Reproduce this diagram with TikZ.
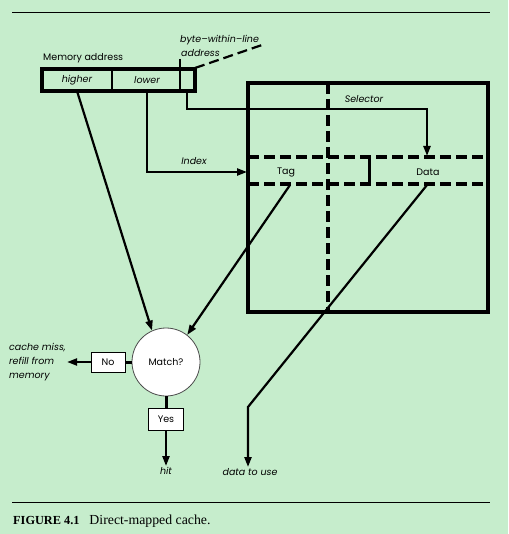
\documentclass[tikz,border=0pt]{standalone}
\usepackage{fontspec}
\setmainfont{Liberation Serif}
\newfontfamily\figfont{Poppins}
\usetikzlibrary{positioning,arrows.meta}
\definecolor{bggreen}{RGB}{198,237,204}
\begin{document}
\begin{tikzpicture}[x=1pt,y=-1pt,
  >={Triangle[length=10pt,width=7pt]},
  txt/.style={font=\figfont\fontsize{9.5}{14}\selectfont, inner sep=1pt},
  lbl/.style={txt, font=\figfont\itshape\fontsize{9.5}{14}\selectfont, align=left},
  box/.style={draw, fill=white, line width=1pt, txt, minimum width=34pt, minimum height=20pt},
  wire/.style={line width=2.2pt},
  thickrule/.style={line width=3.4pt},
  dashrule/.style={line width=3.2pt, dash pattern=on 11pt off 5pt}]
\fill[bggreen] (0,0) rectangle (508,534);
\useasboundingbox (0,0) rectangle (508,534);
\draw[line width=.9pt] (12,12)--(490,12);
\draw[line width=.9pt] (12,502)--(490,502);
\node[anchor=base west, inner sep=0pt] (cap) at (13,524)
  {\fontsize{12.3}{13}\selectfont\textbf{FIGURE 4.1}\hspace{10pt}\fontsize{13.8}{14}\selectfont Direct-mapped cache.};
% memory address fields
\node[txt, anchor=base west, inner sep=0pt] (memlbl) at (43,61) {Memory address};
\node[lbl] (higher) at (77,80) {higher};
\node[lbl] (lower) at (147,80) {lower};
\draw[line width=4pt] (42,69) rectangle (195,91);
\draw[line width=2.4pt] (112,69)--(112,91);
\draw[line width=2.4pt] (180,59)--(180,91);
\node[lbl, anchor=base west, inner sep=0pt] (bwl) at (180,43) {byte–within–line};
\node[lbl, anchor=base west, inner sep=0pt] (bwl2) at (181,57) {address};
\coordinate (bytebox) at (195,68);
\draw[line width=2.2pt, dash pattern=on 10pt off 5pt] (bytebox)--(262,45);
% cache
\draw[thickrule] (248,83) rectangle (488,312);
\draw[dashrule] (328,83)--(328,312);
\draw[dashrule] (248,157)--(488,157);
\draw[dashrule] (248,184)--(488,184);
\draw[line width=3pt] (369,157)--(369,184);
\node[txt] (tag) at (286,172) {Tag};
\node[txt] (data) at (428,172) {Data};
\node[lbl] (sel) at (364,99) {Selector};
\node[lbl] (idx) at (194,161) {Index};
\coordinate (tagrow) at (247,172);
\coordinate (datatop) at (427,156);
\coordinate (tagbot) at (290,185);
\coordinate (databot) at (427,185);
% match logic
\node[circle, draw=black!70, fill=white, line width=.8pt, txt, minimum size=68pt] (match) at (166,362) {Match?};
\node[box] (no) at (108,362) {No};
\node[box, minimum width=35pt, minimum height=22pt] (yes) at (166,419) {Yes};
\node[lbl, anchor=west] (miss) at (8,362) {cache miss,\\refill from\\memory};
\node[lbl, anchor=north] (hit) at (166,466) {hit};
\node[lbl, anchor=north] (use) at (250,467) {data to use};
% connectors
\draw[wire,->] (lower.south|-0,91)--(tagrow-|lower.south)--(tagrow);
\draw[wire,->] (187,91)--(187,109)--(datatop|-0,109)--(datatop);
\draw[wire,->] (higher.south|-0,91)--(match.114);
\draw[wire,->] (tagbot)--(match.52);
\draw[wire,->] (databot)--(248,407)--(use.north-|248,0);
\draw[line width=3pt] (match.west)--(no.east);
\draw[wire,->] (no.west)--(miss.east);
\draw[line width=3pt] (match.south)--(yes.north);
\draw[wire,->] (yes.south)--(hit.north);
\end{tikzpicture}
\end{document}
